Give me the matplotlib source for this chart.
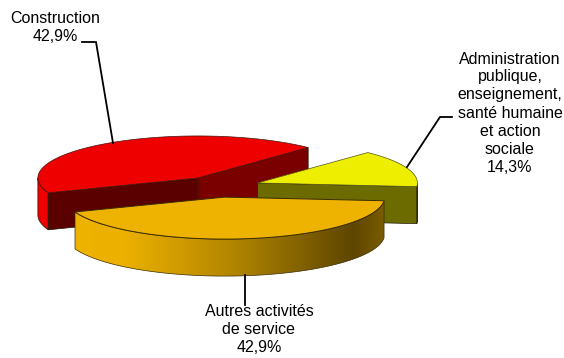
import numpy as np
import matplotlib
matplotlib.use("Agg")
import matplotlib.pyplot as plt
from matplotlib.colors import LinearSegmentedColormap
from matplotlib.patches import Polygon

plt.rcParams["font.family"] = ["Liberation Sans", "DejaVu Sans"]

# clockwise on screen, starting from the right
categories = ["Autres activités\nde service", "Construction",
              "Administration\npublique,\nenseignement,\nsanté humaine\net action\nsociale"]
values = [42.9, 42.9, 14.3]
value_labels = ["42,9%", "42,9%", "14,3%"]

top_colors = ["#EEB200", "#EE0000", "#EEEE00"]
start_angle = 5.0

# pie geometry in pixels
cx, cy = 220, 186.7
rx, ry = 160, 42
depth = 37
explode = 0.25
nudge_x = [-0.8, 0, 0]


def arc(c, t0, t1, n=80):
    t = np.radians(np.linspace(t0, t1, n))
    return np.column_stack([c[0] + rx * np.cos(t), c[1] + ry * np.sin(t)])


def side(points, color, edge="#201800", zorder=2):
    pts = np.asarray(points)
    poly = np.vstack([pts, pts[::-1] + [0, depth]])
    ax.add_patch(Polygon(poly, fc=color, ec=edge, lw=0.5, zorder=zorder))


fig = plt.figure(figsize=(5.64, 3.58), dpi=100)
ax = fig.add_axes([0, 0, 1, 1])

sweeps = 360.0 * np.array(values) / np.sum(values)
starts = start_angle + np.concatenate([[0], np.cumsum(sweeps)[:-1]])
centres = []
for s, w, nx in zip(starts, sweeps, nudge_x):
    m = np.radians(s + w / 2)
    centres.append((cx + nx + explode * rx * np.cos(m), cy + explode * ry * np.sin(m)))

# construction, back slice first
t0, w = starts[1], sweeps[1]
c = np.array(centres[1])
side(arc(c, t0, 180), "#EE0000", zorder=2)
left, right = arc(c, t0, t0, 1)[0], arc(c, t0 + w, t0 + w, 1)[0]
side([c, right], "#7A0000", zorder=2)
side([left, c], "#5A0000", zorder=2)
ax.add_patch(Polygon(np.vstack([[c], arc(c, t0, t0 + w)]), fc=top_colors[1], ec="#4A1010", lw=0.5, zorder=3))

# administration
t0, w = starts[2], sweeps[2]
c = np.array(centres[2])
end = arc(c, t0 + w, t0 + w, 1)[0]
side(arc(c, 360, t0 + w, 12), "#2A2A00", zorder=4)
side([c, end], "#6B6B00", zorder=4)
ax.add_patch(Polygon(np.vstack([[c], arc(c, t0, t0 + w)]), fc=top_colors[2], ec="#55551A", lw=0.5, zorder=5))

# services, rim has a left to right shading
t0, w = starts[0], sweeps[0]
c = np.array(centres[0])
rim = arc(c, t0, t0 + w)
rim_poly = np.vstack([rim, rim[::-1] + [0, depth]])
shade = LinearSegmentedColormap.from_list("rim", [(0.0, "#EEB200"), (0.16, "#EBB000"), (0.38, "#C99600"),
                                                  (0.56, "#A87E00"), (0.82, "#6E5200"), (0.90, "#5F4600"),
                                                  (1.0, "#7A5C00")])
img = ax.imshow(np.linspace(0, 1, 256)[None, :], cmap=shade, aspect="auto", zorder=6,
                extent=[rim[:, 0].min(), rim[:, 0].max(), rim_poly[:, 1].max(), rim_poly[:, 1].min()])
outline = Polygon(rim_poly, fc="none", ec="#3A2C00", lw=0.5, zorder=6.5)
ax.add_patch(outline)
img.set_clip_path(outline)
ax.add_patch(Polygon(np.vstack([[c], rim]), fc=top_colors[0], ec="#3A2C00", lw=0.7, zorder=7))

# leader lines
ax.plot([82, 96, 113], [42, 42, 143], color="black", lw=1.3, zorder=8, solid_joinstyle="miter")
ax.plot([452, 440, 407], [117, 117, 167], color="black", lw=1.3, zorder=8, solid_joinstyle="miter")
ax.plot([245, 245], [275, 305], color="black", lw=1.3, zorder=8)

# labels, the bottom one sits a bit higher so the comma stays on the page
label_pos = [(259, 330), (55, 27.5), (510, 113)]
for (x, y), name, val in zip(label_pos, categories, value_labels):
    ax.text(x, y, name + "\n" + val, ha="center", va="center", ma="center",
            fontsize=11.5, linespacing=1.25, color="black", zorder=9)

ax.set_xlim(0, 564)
ax.set_ylim(358, 0)
ax.axis("off")
fig.savefig("out.png", dpi=100, facecolor="white")
